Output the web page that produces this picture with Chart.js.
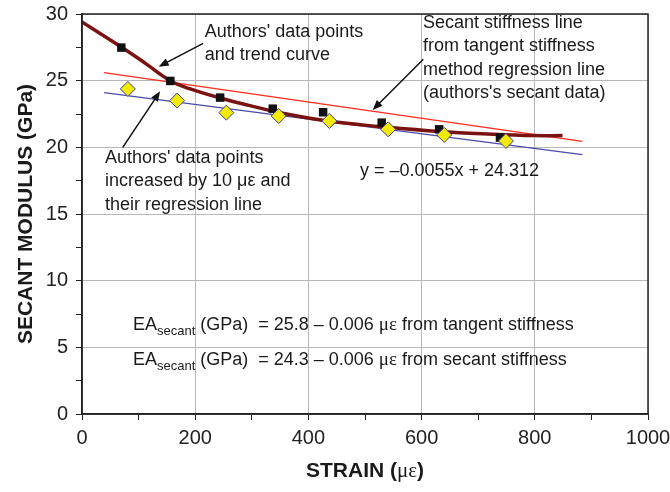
<!DOCTYPE html>
<html>
<head>
<meta charset="utf-8">
<style>
  html, body { margin: 0; padding: 0; background: #fff; }
  #wrap { width: 670px; height: 492px; }
</style>
<script src="https://cdn.jsdelivr.net/npm/chart.js@4.4.0/dist/chart.umd.min.js"></script>
</head>
<body>
<div id="wrap"><canvas id="chart" width="670" height="492"></canvas></div>
<script>
// Authors' data (black squares) and trend curve
const authorsStrain = [69.5, 156, 244, 337, 426, 529.5, 631, 738.5];
const authorsModulus = [27.48, 24.98, 23.73, 22.9, 22.63, 21.85, 21.35, 20.73];
const trendStrain = [0, 70, 112, 156, 190, 244, 295, 350, 438, 526, 632, 726, 797, 849];
const trendModulus = [29.4, 27.5, 26.3, 25.0, 24.4, 23.7, 23.15, 22.6, 21.95, 21.56, 21.18, 20.98, 20.88, 20.88];

// Data points increased by 10 microstrain (yellow diamonds)
const shiftedStrain = [81, 168, 255, 347.5, 437, 541, 640, 749];
const shiftedModulus = [24.38, 23.5, 22.6, 22.35, 21.98, 21.35, 20.93, 20.48];

// regression lines (end points)
const tangentLineStrain = [39, 884];
const tangentLineModulus = [25.6, 20.45];
const secantLineStrain = [39, 884];
const secantLineModulus = [24.1, 19.45];

const xTicks = [0, 200, 400, 600, 800, 1000];
const yTicks = [0, 5, 10, 15, 20, 25, 30];

const FONT = "'Liberation Sans', Arial, sans-serif";
const SERIF = "'Liberation Serif', 'Times New Roman', serif";

const pts = (xs, ys) => xs.map((x, i) => ({ x: x, y: ys[i] }));

// text notes and arrows, positioned in data units
const notes = [
    { x: 217, y: 28.65, lines: ["Authors' data points", "and trend curve"] },
    { x: 40.6, y: 19.2, lines: ["Authors' data points", "increased by 10 \u03bc\u03b5 and", "their regression line"] },
    { x: 602.5, y: 29.33, lines: ["Secant stiffness line", "from tangent stiffness", "method regression line", "(authors's secant data)"] },
    { x: 491, y: 18.23, lines: ["y = \u20130.0055x + 24.312"] }
];
const arrows = [
    { from: [214, 27.8], to: [135.5, 26.05] },
    { from: [72, 20.0], to: [138, 24.2] },
    { from: [603, 26.6], to: [513.5, 22.8] }
];
const eqLines = [
    { x: 90, y: 6.68, value: "25.8", method: "tangent stiffness" },
    { x: 90, y: 4.05, value: "24.3", method: "secant stiffness" }
];

function drawParts(ctx, x, y, parts) {
    parts.forEach(p => {
        ctx.font = p.font;
        ctx.fillText(p.t, x, y + (p.dy || 0));
        x += ctx.measureText(p.t).width;
    });
}

const extras = {
    id: 'extras',
    afterDatasetsDraw(chart) {
        const ctx = chart.ctx;
        const xs = chart.scales.x, ys = chart.scales.y;
        const a = chart.chartArea;
        ctx.save();

        // frame around the plot
        ctx.strokeStyle = '#222';
        ctx.lineWidth = 1.5;
        ctx.strokeRect(a.left, a.top, a.right - a.left, a.bottom - a.top);

        ctx.fillStyle = '#1a1a1a';
        ctx.textBaseline = 'middle';
        ctx.textAlign = 'left';
        ctx.font = '18px ' + FONT;
        notes.forEach(n => {
            const px = xs.getPixelForValue(n.x), py = ys.getPixelForValue(n.y);
            n.lines.forEach((l, i) => ctx.fillText(l, px, py + i * 23.5));
        });

        // arrows
        ctx.strokeStyle = '#111';
        ctx.lineWidth = 1.5;
        arrows.forEach(ar => {
            const x1 = xs.getPixelForValue(ar.from[0]), y1 = ys.getPixelForValue(ar.from[1]);
            const x2 = xs.getPixelForValue(ar.to[0]), y2 = ys.getPixelForValue(ar.to[1]);
            const ang = Math.atan2(y2 - y1, x2 - x1);
            ctx.beginPath();
            ctx.moveTo(x1, y1);
            ctx.lineTo(x2 - 6 * Math.cos(ang), y2 - 6 * Math.sin(ang));
            ctx.stroke();
            ctx.beginPath();
            ctx.moveTo(x2, y2);
            ctx.lineTo(x2 - 10 * Math.cos(ang) + 4 * Math.sin(ang), y2 - 10 * Math.sin(ang) - 4 * Math.cos(ang));
            ctx.lineTo(x2 - 10 * Math.cos(ang) - 4 * Math.sin(ang), y2 - 10 * Math.sin(ang) + 4 * Math.cos(ang));
            ctx.closePath();
            ctx.fillStyle = '#111';
            ctx.fill();
        });

        // EA secant equations
        ctx.fillStyle = '#1a1a1a';
        eqLines.forEach(e => {
            const px = xs.getPixelForValue(e.x), py = ys.getPixelForValue(e.y);
            drawParts(ctx, px, py, [
                { t: 'EA', font: '18px ' + FONT },
                { t: 'secant', font: '13px ' + FONT, dy: 6 },
                { t: ' (GPa)  = ' + e.value + ' \u2013 0.006 ', font: '18px ' + FONT },
                { t: '\u03bc\u03b5', font: '19px ' + SERIF },
                { t: ' from ' + e.method, font: '18px ' + FONT }
            ]);
        });

        // x axis title with serif micro-strain
        const tx = (a.left + a.right) / 2;
        ctx.font = 'bold 21px ' + FONT;
        const w1 = ctx.measureText('STRAIN (').width;
        ctx.font = '21px ' + SERIF;
        const w2 = ctx.measureText('\u03bc\u03b5').width;
        ctx.font = 'bold 21px ' + FONT;
        const w3 = ctx.measureText(')').width;
        drawParts(ctx, tx - (w1 + w2 + w3) / 2, 471, [
            { t: 'STRAIN (', font: 'bold 21px ' + FONT },
            { t: '\u03bc\u03b5', font: '21px ' + SERIF },
            { t: ')', font: 'bold 21px ' + FONT }
        ]);
        ctx.restore();
    }
};

const ctx = document.getElementById('chart').getContext('2d');
const chart = new Chart(ctx, {
    type: 'scatter',
    data: {
        datasets: [
            {
                label: 'Shifted data',
                data: pts(shiftedStrain, shiftedModulus),
                pointStyle: 'rectRot',
                pointRadius: 7.5,
                backgroundColor: '#f2ea00',
                borderColor: '#3c3ca0',
                borderWidth: 1,
                order: 0
            },
            {
                label: 'Authors data',
                data: pts(authorsStrain, authorsModulus),
                pointStyle: 'rect',
                pointRadius: 6,
                backgroundColor: '#111',
                borderColor: '#111',
                borderWidth: 0,
                order: 1
            },
            {
                label: 'Trend curve',
                data: pts(trendStrain, trendModulus),
                showLine: true,
                pointRadius: 0,
                borderColor: '#7a1212',
                borderWidth: 3.5,
                tension: 0.4,
                order: 2
            },
            {
                label: 'Tangent line',
                data: pts(tangentLineStrain, tangentLineModulus),
                showLine: true,
                pointRadius: 0,
                borderColor: '#ff2a1a',
                borderWidth: 1.2,
                order: 3
            },
            {
                label: 'Secant line',
                data: pts(secantLineStrain, secantLineModulus),
                showLine: true,
                pointRadius: 0,
                borderColor: '#4a4aa8',
                borderWidth: 1.2,
                order: 4
            }
        ]
    },
    options: {
        responsive: false,
        animation: false,
        layout: { padding: { top: 14, right: 22, left: 0, bottom: 0 } },
        plugins: { legend: { display: false }, tooltip: { enabled: false } },
        scales: {
            x: {
                type: 'linear',
                min: 0, max: 1000,
                afterFit: s => { s.height = 78; s.paddingLeft = 0; s.paddingRight = 0; },
                afterBuildTicks: s => { s.ticks = []; for (let v = 0; v <= 1000; v += 100) s.ticks.push({ value: v }); },
                ticks: {
                    autoSkip: false, maxRotation: 0, padding: 6, color: '#222',
                    font: { family: FONT, size: 20 },
                    callback: v => xTicks.includes(v) ? v : ''
                },
                grid: {
                    color: c => (c.tick && xTicks.includes(c.tick.value)) ? '#b8b8b8' : 'rgba(0,0,0,0)',
                    tickColor: '#222', tickLength: 6, lineWidth: 1
                },
                border: { color: '#222', width: 1.5 },
                title: { display: false }
            },
            y: {
                min: 0, max: 30,
                afterFit: s => { s.width = 82; s.paddingTop = 0; s.paddingBottom = 0; },
                afterBuildTicks: s => { s.ticks = []; for (let v = 0; v <= 30; v += 2.5) s.ticks.push({ value: v }); },
                ticks: {
                    autoSkip: false, padding: 8, color: '#222',
                    font: { family: FONT, size: 20 },
                    callback: v => yTicks.includes(v) ? v : ''
                },
                grid: {
                    color: c => (c.tick && yTicks.includes(c.tick.value)) ? '#b8b8b8' : 'rgba(0,0,0,0)',
                    tickColor: '#222', tickLength: 6, lineWidth: 1
                },
                border: { color: '#222', width: 1.5 },
                title: {
                    display: true,
                    text: 'SECANT MODULUS (GPa)',
                    color: '#1a1a1a',
                    font: { family: FONT, size: 21, weight: 'bold' },
                    padding: { top: 14, bottom: 0 }
                }
            }
        }
    },
    plugins: [extras]
});
</script>
</body>
</html>
